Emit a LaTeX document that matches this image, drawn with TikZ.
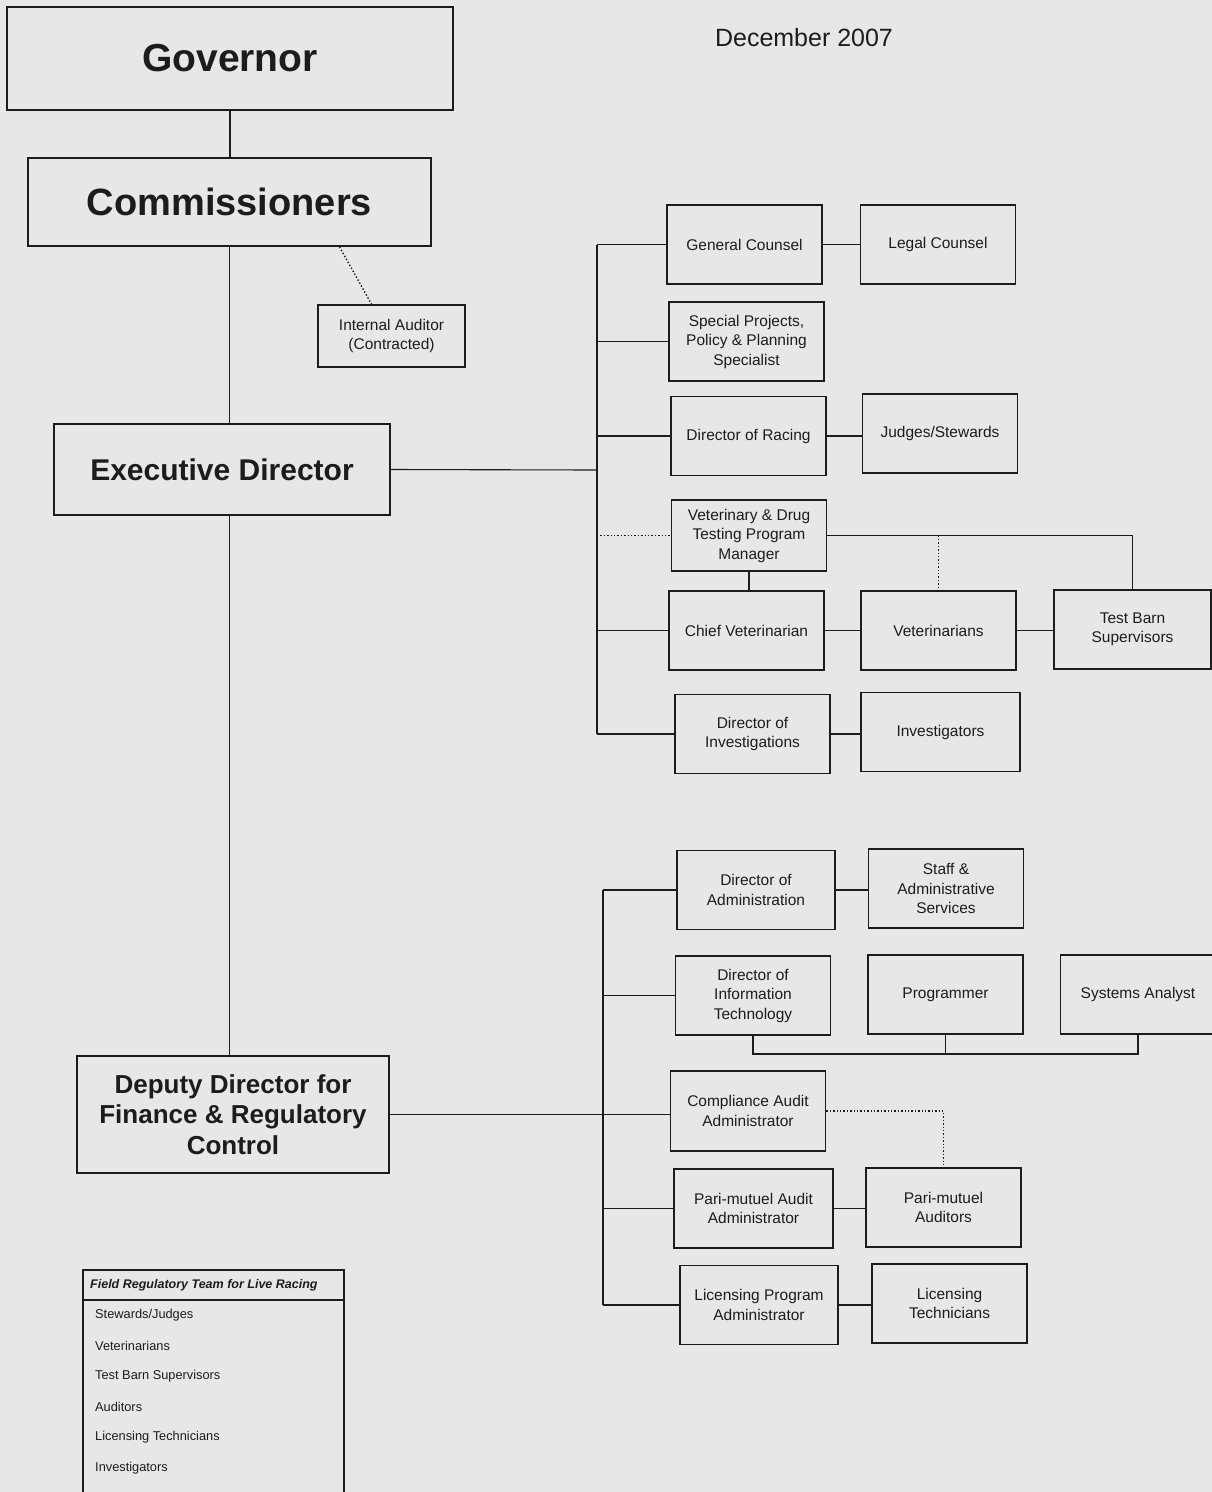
\documentclass[tikz,border=0pt]{standalone}
\usepackage{fontspec}
\setmainfont{Liberation Sans}
\usetikzlibrary{positioning, calc}
\definecolor{Paper}{HTML}{E6E8E6}
\definecolor{Ink}{HTML}{1C1C1C}
\tikzset{
    post/.style={rectangle, draw=Ink, line width=1.8pt, text=Ink, align=center,
                 inner sep=2pt, minimum width=155pt, minimum height=79pt,
                 font=\fontsize{15.5}{19.5}\selectfont},
    chief/.style={rectangle, draw=Ink, line width=1.8pt, text=Ink, align=center,
                  inner sep=2pt, font=\bfseries},
    solidlink/.style={draw=Ink, line width=1.1pt},
    dotlink/.style={draw=Ink, line width=1.4pt, dotted},
    legitem/.style={anchor=west, text=Ink, inner sep=0pt,
                    font=\fontsize{12.8}{15}\selectfont},
}

\begin{document}
\begin{tikzpicture}[x=1pt, y=-1pt]
    % page and size
    \fill[Paper] (0,0) rectangle (1212,1492);
    \useasboundingbox (0,0) rectangle (1212,1492);

    \node[text=Ink, font=\fontsize{25}{30}\selectfont] (date) at (804,38) {December 2007};

    % Left column
    \node[chief, minimum width=446pt, minimum height=103pt,
          font=\fontsize{39}{44}\bfseries] (gov) at (230,58.5) {Governor};
    \node[chief, minimum width=403pt, minimum height=88pt,
          font=\fontsize{38}{43}\bfseries] (com) at (229.5,202) {Commissioners};
    \node[post, minimum width=147pt, minimum height=62pt] (ia) at (391.5,336)
        {Internal Auditor\\(Contracted)};
    \node[chief, minimum width=336pt, minimum height=91pt,
          font=\fontsize{30}{34}\bfseries] (ed) at (222,469.5) {Executive Director};
    \node[chief, minimum width=312pt, minimum height=117pt,
          font=\fontsize{26}{30.5}\bfseries] (dd) at (233,1114.5)
        {Deputy Director for\\Finance \& Regulatory\\Control};

    % Executive Director side
    \node[post] (gc)   at (744.5,244.5) {General Counsel};
    \node[post] (lc)   at (938,244.5)   {Legal Counsel};
    \node[post] (sp)   at (746.5,341.5) {Special Projects,\\Policy \& Planning\\Specialist};
    \node[post] (dor)  at (748.5,436)   {Director of Racing};
    \node[post] (js)   at (940,433.5)   {Judges/Stewards};
    \node[post, minimum height=71pt] (vdt) at (749,535.5)
        {Veterinary \& Drug\\Testing Program\\Manager};
    \node[post] (cv)   at (746.5,630.5) {Chief Veterinarian};
    \node[post] (vets) at (938.5,630.5) {Veterinarians};
    \node[post, minimum width=157pt] (tbs) at (1132.5,629.5) {Test Barn\\Supervisors};
    \node[post] (doi)  at (752.5,734)   {Director of\\Investigations};
    \node[post, minimum width=159pt] (inv) at (940.5,732) {Investigators};

    % Deputy Director side
    \node[post, minimum width=158pt] (doa) at (756,890) {Director of\\Administration};
    \node[post] (sas)  at (946,888.5)   {Staff \&\\Administrative\\Services};
    \node[post] (dit)  at (753,995.5)   {Director of\\Information\\Technology};
    \node[post] (prog) at (945.5,994.5) {Programmer};
    \node[post] (sa)   at (1138,994.5)  {Systems Analyst};
    \node[post, minimum height=80pt] (caa) at (748,1111) {Compliance Audit\\Administrator};
    \node[post, minimum width=159pt] (paa) at (753.5,1208.5) {Pari-mutuel Audit\\Administrator};
    \node[post] (pa)   at (943.5,1207.5) {Pari-mutuel\\Auditors};
    \node[post, minimum width=158pt] (lpa) at (759,1305) {Licensing Program\\Administrator};
    \node[post] (lt)   at (949.5,1303.5) {Licensing\\Technicians};

    % Chain of command
    \draw[solidlink] (gov.south) -- (gov.south |- com.north);
    \draw[solidlink] (com.south) -- (com.south |- ed.north);
    \draw[solidlink] (ed.south -| com.south) -- (dd.north -| com.south);
    \draw[dotlink] ([xshift=110pt]com.south) -- ([xshift=-20pt]ia.north);

    % Executive Director bus
    \coordinate (edbus) at (597,470);
    \draw[solidlink] (ed.east) -- (edbus);
    \draw[solidlink] (edbus |- gc.west) -- (edbus |- doi.west);
    \foreach \n in {gc, sp, dor, cv, doi}
        \draw[solidlink] (edbus |- \n.west) -- (\n.west);
    \draw[dotlink] (edbus |- vdt.west) -- (vdt.west);
    \draw[solidlink] (gc.east) -- (gc.east -| lc.west);
    \draw[solidlink] (dor.east) -- (dor.east -| js.west);
    \draw[solidlink] (vdt.south) -- (vdt.south |- cv.north);
    \draw[solidlink] (vdt.east) -| (tbs.north);
    \draw[dotlink] (vets.north |- vdt.east) -- (vets.north);
    \draw[solidlink] (cv.east) -- (cv.east -| vets.west);
    \draw[solidlink] (vets.east) -- (vets.east -| tbs.west);
    \draw[solidlink] (doi.east) -- (doi.east -| inv.west);

    % Deputy Director bus
    \coordinate (ddbus) at (603,1114);
    \draw[solidlink] (dd.east) -- (dd.east -| caa.west);
    \draw[solidlink] (ddbus |- doa.west) -- (ddbus |- lpa.west);
    \foreach \n in {doa, dit, paa, lpa}
        \draw[solidlink] (ddbus |- \n.west) -- (\n.west);
    \draw[solidlink] (doa.east) -- (doa.east -| sas.west);
    \coordinate (itbar) at (0,1054);
    \draw[solidlink] (dit.south) -- (dit.south |- itbar) -- (sa.south |- itbar) -- (sa.south);
    \draw[solidlink] (prog.south) -- (prog.south |- itbar);
    \draw[dotlink] (caa.east) -| (pa.north);
    \draw[solidlink] (paa.east) -- (paa.east -| pa.west);
    \draw[solidlink] (lpa.east) -- (lpa.east -| lt.west);

    % Field team legend
    \draw[Ink, line width=1.3pt] (83,1500) |- (344,1270) -- (344,1500);
    \draw[Ink, line width=1.3pt] (83,1300) -- (344,1300);
    \node[legitem, font=\fontsize{12.5}{15}\bfseries\itshape] (leghead) at (90,1285)
        {Field Regulatory Team for Live Racing};
    \foreach \t [count=\i from 0] in {Stewards/Judges, Veterinarians, Test Barn Supervisors,
                                     Auditors, Licensing Technicians, Investigators}
        \node[legitem] (leg\i) at (95,1315+30.6*\i) {\t};
\end{tikzpicture}
\end{document}
